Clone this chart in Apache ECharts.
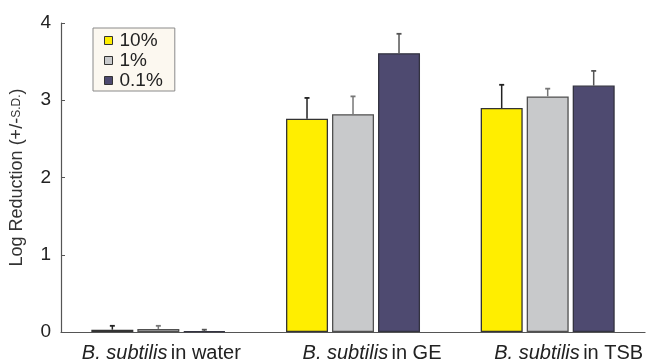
<!DOCTYPE html>
<html><head><meta charset="utf-8">
<script src="https://cdn.jsdelivr.net/npm/echarts@6/dist/echarts.min.js"></script>
<style>html,body{margin:0;padding:0;background:#fff}#c{width:646px;height:363px}</style>
</head><body><div id="c"></div>
<script>
var categories = ['water', 'GE', 'TSB'];
var seriesNames = ['10%', '1%', '0.1%'];
var v10 = [0.03, 2.76, 2.90];
var v1 = [0.04, 2.82, 3.05];
var v01 = [0.01, 3.61, 3.19];
var e10 = [0.05, 0.27, 0.30];
var e1 = [0.04, 0.23, 0.10];
var e01 = [0.02, 0.25, 0.19];
var yTicks = [0, 1, 2, 3, 4];

// layout: horizontal nudge of each category label (px)
var labelShift = [3, 19, 21];

var colors = ['#FFEE00', '#C8C9CB', '#4E4A70'];
var borders = ['#333333', '#505050', '#333340'];
var errColors = ['#222222', '#777777', '#555555'];
var vals = [v10, v1, v01];
var errs = [e10, e1, e01];
var BAR_W = 42, GAP = 4;
var FONT = 'Liberation Sans, Arial, sans-serif';

var chart = echarts.init(document.getElementById('c'));
var series = [];
for (var i = 0; i < 3; i++) {
  series.push({
    name: seriesNames[i], type: 'bar', data: vals[i], barWidth: BAR_W, barGap: (GAP / BAR_W * 100) + '%',
    itemStyle: { color: colors[i], borderColor: borders[i], borderWidth: 1.3 }, z: 2
  });
}
for (var j = 0; j < 3; j++) {
  (function (k) {
    series.push({
      type: 'custom', name: 'err' + k, z: 3,
      data: categories.map(function (c, idx) { return [idx, vals[k][idx], vals[k][idx] + errs[k][idx]]; }),
      renderItem: function (params, api) {
        var x0 = api.coord([api.value(0), api.value(1)]);
        var top = api.coord([api.value(0), api.value(2)]);
        var off = (k - 1) * (BAR_W + GAP);
        var x = x0[0] + off;
        return { type: 'group', children: [
          { type: 'line', shape: { x1: x, y1: x0[1], x2: x, y2: top[1] }, style: { stroke: errColors[k], lineWidth: 1.5 } },
          { type: 'line', shape: { x1: x - 2.5, y1: top[1], x2: x + 2.5, y2: top[1] }, style: { stroke: errColors[k], lineWidth: 1.8 } }
        ]};
      }
    });
  })(j);
}

chart.setOption({
  animation: false,
  backgroundColor: '#ffffff',
  grid: { left: 61, right: 0, top: 23, bottom: 30, containLabel: false },
  legend: {
    data: seriesNames, orient: 'vertical', left: 93, top: 28,
    itemWidth: 8, itemHeight: 8, itemGap: 1,
    padding: [3, 12, 1, 11],
    backgroundColor: '#FCF8F0', borderColor: '#8a8a8a', borderWidth: 1,
    textStyle: { fontFamily: FONT, fontSize: 19, color: '#222', padding: [0, 0, 0, 2] },
    itemStyle: { borderColor: '#333', borderWidth: 1 },
    icon: 'rect'
  },
  xAxis: {
    type: 'category', data: categories,
    axisLine: { lineStyle: { color: '#555', width: 1.2 } },
    axisTick: { inside: true, length: 4, interval: 0, lineStyle: { color: '#555' } },
    axisLabel: {
      interval: 0, hideOverlap: false,
      margin: 11,
      formatter: function (v, idx) {
        return '{p' + idx + '|}{i|B. subtilis} {n|in ' + v + '}';
      },
      rich: {
        p0: { width: labelShift[0] * 2 },
        p1: { width: labelShift[1] * 2 },
        p2: { width: labelShift[2] * 2 },
        i: { fontFamily: FONT, fontStyle: 'italic', fontSize: 20, color: '#222' },
        n: { fontFamily: FONT, fontSize: 20, color: '#222' }
      }
    }
  },
  yAxis: {
    type: 'value', min: 0, max: 4, interval: 1,
    name: '{a|Log Reduction (+/-}{b|S.D.}{a|)}', nameLocation: 'middle', nameGap: 35,
    nameTextStyle: { rich: {
      a: { fontFamily: FONT, fontSize: 18, color: '#333' },
      b: { fontFamily: FONT, fontSize: 12, color: '#333' }
    } },
    splitLine: { show: false },
    axisLine: { show: true, lineStyle: { color: '#555', width: 1.2 } },
    axisTick: { show: true, inside: true, length: 4, lineStyle: { color: '#555' } },
    axisLabel: { margin: 10, fontFamily: FONT, fontSize: 19, color: '#222',
      formatter: function (v) { return yTicks.indexOf(v) >= 0 ? String(v) : ''; } }
  },
  series: series
});
</script></body></html>
